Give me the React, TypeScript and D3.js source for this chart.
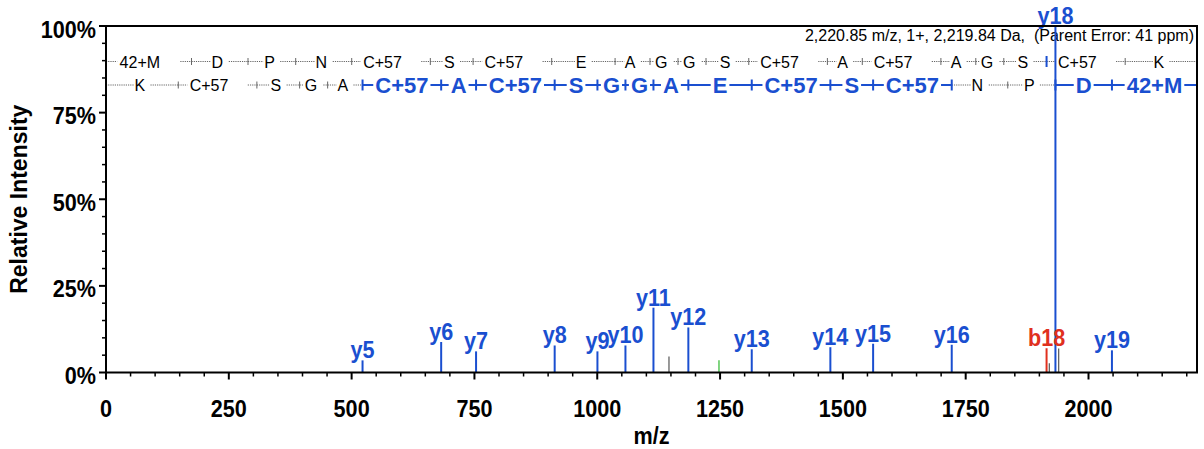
import React from 'react';
import * as d3 from 'd3';

// ---------------- data ----------------
const precursorMz = 2220.85;
const infoText = '2,220.85 m/z, 1+, 2,219.84 Da,\u00a0 (Parent Error: 41 ppm)';

const xMajorTicks = [0, 250, 500, 750, 1000, 1250, 1500, 1750, 2000];
const yMajorTicks = [0, 25, 50, 75, 100];

// annotated fragment peaks
const peakLabels = ['y5', 'y6', 'y7', 'y8', 'y9', 'y10', 'y11', 'y12', 'y13', 'y14', 'y15', 'y16', 'b18', 'y18', 'y19'];
const peakMz = [522.23, 682.27, 753.3, 913.33, 1000.37, 1057.39, 1114.41, 1185.44, 1314.49, 1474.52, 1561.55, 1721.58, 1914.62, 1932.68, 2047.7];
const peakIntensity = [3.5, 8.8, 6.1, 7.8, 6.1, 7.8, 18.7, 13.0, 6.7, 7.3, 8.3, 8.0, 7.0, 100, 6.4];
const peakKind = ['y', 'y', 'y', 'y', 'y', 'y', 'y', 'y', 'y', 'y', 'y', 'y', 'b', 'y', 'y'];

// other (unlabelled) peaks
const otherMz = [1146.0, 1247.8, 1920.2, 1939.3];
const otherIntensity = [4.6, 3.5, 2.7, 6.9];
const otherKind = ['none', 'other', 'none', 'none'];

// peptide sequence (N -> C)
const residues = ['42+M', 'D', 'P', 'N', 'C+57', 'S', 'C+57', 'E', 'A', 'G', 'G', 'S', 'C+57', 'A', 'C+57', 'A', 'G', 'S', 'C+57', 'K'];
const bIonMz = [174.058, 289.085, 386.138, 500.181, 660.211, 747.243, 907.274, 1036.316, 1107.353, 1164.375, 1221.396, 1308.428, 1468.459, 1539.496, 1699.527, 1770.564, 1827.585, 1914.617, 2074.648];
const yIonMz = [147.113, 307.144, 394.176, 451.197, 522.234, 682.265, 753.302, 913.333, 1000.365, 1057.386, 1114.407, 1185.444, 1314.487, 1474.518, 1561.55, 1721.581, 1835.624, 1932.677, 2047.704];
const matchedB = [18];
const matchedY = [5, 6, 7, 8, 9, 10, 11, 12, 13, 14, 15, 16, 18, 19];

// ---------------- styles ----------------
const FONT = 'Arial, "Liberation Sans", sans-serif';
const BLUE = '#1a4fd0';
const RED = '#e0301e';
const GREEN = '#2db82d';
const GREY = '#555';

const kindColor: Record<string, string> = { y: BLUE, b: RED, other: GREEN, none: GREY };

let measureCtx: CanvasRenderingContext2D | null = null;
function textWidth(s: string, font: string): number {
  if (!measureCtx) measureCtx = document.createElement('canvas').getContext('2d');
  if (!measureCtx) return s.length * 10;
  measureCtx.font = font;
  return measureCtx.measureText(s).width;
}

export default function App() {
  const W = 1204, H = 449;
  const x = d3.scaleLinear().domain([0, precursorMz]).range([106, 1197]);
  const y = d3.scaleLinear().domain([0, 100]).range([372.5, 26]);
  const x0 = x.range()[0], x1 = x.range()[1];
  const yb = y(0), yt = y(100);

  const xMinor = d3.range(0, precursorMz, 50).filter((v) => v % 250 !== 0);
  const yMinor = d3.range(0, 100, 5).filter((v) => v % 25 !== 0);

  function buildRow(labels: string[], ions: number[], matched: number[], rowY: number, key: string) {
    const bounds = [0, ...ions, precursorMz];
    const isM = (k: number) => k === 0 || k === bounds.length - 1 || matched.includes(k);
    const els: React.ReactNode[] = [];
    labels.forEach((lab, i) => {
      const strong = isM(i) && isM(i + 1);
      const xa = x(bounds[i]);
      const xb = x(bounds[i + 1]);
      const c = (xa + xb) / 2;
      const font = strong ? `bold 22px ${FONT}` : `16px ${FONT}`;
      const w = textWidth(lab, font);
      let tStart: number, gL: number, gR: number;
      if (strong) {
        tStart = c - w / 2;
        gL = c - w / 2 - 2;
        gR = c + w / 2 + 2;
      } else {
        tStart = c - 0.72 * w;
        gL = c - 0.78 * w;
        gR = c + 0.78 * w;
      }
      const lineProps = strong
        ? { stroke: BLUE, strokeWidth: 2 }
        : { stroke: '#666', strokeWidth: 1, strokeDasharray: '1.2,1' };
      if (gL > xa) els.push(<line key={`${key}l${i}`} x1={xa} x2={gL} y1={rowY} y2={rowY} {...lineProps} />);
      if (xb > gR) els.push(<line key={`${key}r${i}`} x1={gR} x2={xb} y1={rowY} y2={rowY} {...lineProps} />);
      els.push(
        <text
          key={`${key}t${i}`}
          x={tStart}
          y={rowY + (strong ? 8 : 6)}
          fontFamily={FONT}
          fontSize={strong ? 22 : 16}
          fontWeight={strong ? 'bold' : 'normal'}
          fill={strong ? BLUE : '#000'}
        >
          {lab}
        </text>
      );
    });
    ions.forEach((mz, j) => {
      const k = j + 1;
      const m = matched.includes(k);
      els.push(
        <line
          key={`${key}k${k}`}
          x1={x(mz)}
          x2={x(mz)}
          y1={rowY - (m ? 5.5 : 3.5)}
          y2={rowY + (m ? 5.5 : 3.5)}
          stroke={m ? BLUE : '#666'}
          strokeWidth={m ? 2 : 1}
        />
      );
    });
    return els;
  }

  const reversed = [...residues].reverse();

  return (
    <svg width={W} height={H} style={{ position: 'absolute', left: 0, top: 0, background: '#fff' }}>
      <rect x={0} y={0} width={W} height={H} fill="#fff" />

      {/* sequence annotation rows */}
      <g>{buildRow(residues, bIonMz, matchedB, 61.5, 'b')}</g>
      <g>{buildRow(reversed, yIonMz, matchedY, 85, 'y')}</g>

      {/* info text */}
      <text x={1194} y={41} textAnchor="end" fontFamily={FONT} fontSize={16} fill="#000">
        {infoText}
      </text>

      {/* unlabelled peaks */}
      {otherMz.map((mz, i) => (
        <line
          key={`o${i}`}
          x1={x(mz)}
          x2={x(mz)}
          y1={yb}
          y2={y(otherIntensity[i])}
          stroke={kindColor[otherKind[i]]}
          strokeWidth={1.2}
        />
      ))}

      {/* labelled peaks */}
      {peakMz.map((mz, i) => (
        <line
          key={`p${i}`}
          x1={x(mz)}
          x2={x(mz)}
          y1={yb}
          y2={y(peakIntensity[i])}
          stroke={kindColor[peakKind[i]]}
          strokeWidth={2}
        />
      ))}
      {peakMz.map((mz, i) => (
        <text
          key={`pl${i}`}
          transform={`translate(${x(mz)},${y(peakIntensity[i]) - 2}) scale(0.9,1)`}
          textAnchor="middle"
          fontFamily={FONT}
          fontSize={24}
          fontWeight="bold"
          fill={kindColor[peakKind[i]]}
        >
          {peakLabels[i]}
        </text>
      ))}

      {/* frame */}
      <line x1={x0} x2={x1 + 1} y1={yt} y2={yt} stroke="#000" strokeWidth={2} />
      <line x1={x1} x2={x1} y1={yt} y2={yb} stroke="#000" strokeWidth={2} />

      {/* axes */}
      <line x1={x0} x2={x0} y1={yt - 1} y2={yb + 1} stroke="#000" strokeWidth={2} />
      <line x1={x0 - 1} x2={x1 + 1} y1={yb} y2={yb} stroke="#000" strokeWidth={2} />

      {xMajorTicks.map((v) => (
        <g key={`xt${v}`}>
          <line x1={x(v)} x2={x(v)} y1={yb} y2={yb + 7} stroke="#000" strokeWidth={2} />
          <text
            transform={`translate(${x(v)},417) scale(0.9,1)`}
            textAnchor="middle"
            fontFamily={FONT}
            fontSize={24}
            fontWeight="bold"
          >
            {v}
          </text>
        </g>
      ))}
      {xMinor.map((v) => (
        <line key={`xm${v}`} x1={x(v)} x2={x(v)} y1={yb} y2={yb + 4} stroke="#000" strokeWidth={1.5} />
      ))}

      {yMajorTicks.map((v) => (
        <g key={`yt${v}`}>
          <line x1={x0 - 7} x2={x0} y1={y(v)} y2={y(v)} stroke="#000" strokeWidth={2} />
          <text
            transform={`translate(96,${y(v) + 11.5}) scale(0.9,1)`}
            textAnchor="end"
            fontFamily={FONT}
            fontSize={24}
            fontWeight="bold"
          >
            {`${v}%`}
          </text>
        </g>
      ))}
      {yMinor.map((v) => (
        <line key={`ym${v}`} x1={x0 - 4} x2={x0} y1={y(v)} y2={y(v)} stroke="#000" strokeWidth={1.5} />
      ))}

      {/* axis titles */}
      <text
        transform={`translate(${(x0 + x1) / 2},444) scale(0.9,1)`}
        textAnchor="middle"
        fontFamily={FONT}
        fontSize={24}
        fontWeight="bold"
      >
        m/z
      </text>
      <text
        transform={`translate(27,${(yb + yt) / 2}) rotate(-90)`}
        textAnchor="middle"
        fontFamily={FONT}
        fontSize={23}
        fontWeight="bold"
      >
        Relative Intensity
      </text>
    </svg>
  );
}
